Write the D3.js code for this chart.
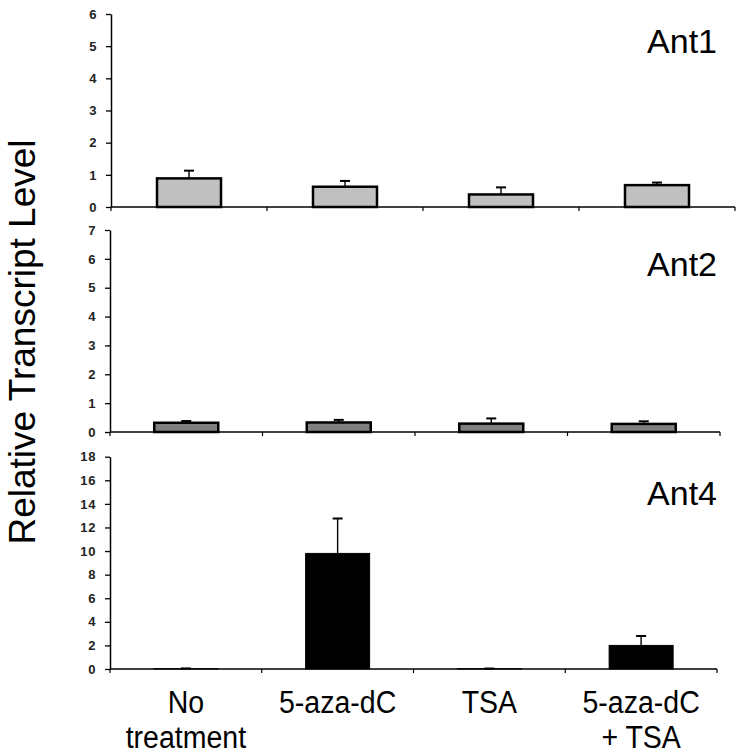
<!DOCTYPE html>
<html>
<head>
<meta charset="utf-8">
<script src="https://cdn.jsdelivr.net/npm/d3@7"></script>
<style>
  html, body { margin: 0; padding: 0; background: #fff; }
  svg { display: block; }
  text { font-family: "Liberation Sans", Arial, sans-serif; }
</style>
</head>
<body>
<svg id="chart" width="744" height="755"></svg>
<script>
// ---- data ----
const categories = ["No treatment", "5-aza-dC", "TSA", "5-aza-dC + TSA"];
const categoryLines = [["No", "treatment"], ["5-aza-dC"], ["TSA"], ["5-aza-dC", "+ TSA"]];
const genes = ["Ant1", "Ant2", "Ant4"];
const ant1 = [0.89, 0.63, 0.39, 0.68];
const ant1Err = [0.24, 0.18, 0.22, 0.08];
const ant2 = [0.32, 0.33, 0.29, 0.28];
const ant2Err = [0.06, 0.09, 0.18, 0.09];
const ant4 = [0.02, 9.8, 0.02, 2.0];
const ant4Err = [0.03, 2.96, 0.02, 0.8];
const ant1Ticks = [0, 1, 2, 3, 4, 5, 6];
const ant2Ticks = [0, 1, 2, 3, 4, 5, 6, 7];
const ant4Ticks = [0, 2, 4, 6, 8, 10, 12, 14, 16, 18];
const yLabel = "Relative Transcript Level";

// ---- layout ----
const panels = [
  { name: genes[0], vals: ant1, errs: ant1Err, ticks: ant1Ticks, fill: "#c0c0c0", stroke: 2.5,
    x0: 111, x1: 735, yBottom: 207, yTop: 14, titleY: 53 },
  { name: genes[1], vals: ant2, errs: ant2Err, ticks: ant2Ticks, fill: "#808080", stroke: 2.5,
    x0: 110, x1: 720, yBottom: 432, yTop: 230, titleY: 276 },
  { name: genes[2], vals: ant4, errs: ant4Err, ticks: ant4Ticks, fill: "#000000", stroke: 1,
    x0: 110, x1: 717, yBottom: 669, yTop: 456.7, titleY: 505 }
];

const svg = d3.select("#chart");

panels.forEach((p, pi) => {
  const x = d3.scaleBand().domain(categories).range([p.x0, p.x1]).paddingInner(0).paddingOuter(0);
  const yMax = p.ticks[p.ticks.length - 1];
  const y = d3.scaleLinear().domain([0, yMax]).range([p.yBottom, p.yTop]);
  const g = svg.append("g");

  // y axis
  const yAxis = g.append("g")
    .attr("transform", `translate(${p.x0},0)`)
    .call(d3.axisLeft(y).tickValues(p.ticks).tickFormat(d3.format("d"))
      .tickSize(5).tickPadding(9).tickSizeOuter(0));
  yAxis.select(".domain").attr("stroke", "#000").attr("stroke-width", 1.5);
  yAxis.selectAll(".tick line").attr("stroke", "#000").attr("stroke-width", 1.3);
  yAxis.selectAll(".tick text")
    .attr("font-size", 13).attr("font-weight", "bold").attr("fill", "#222")
    .attr("font-family", "'Liberation Sans', Arial, sans-serif")
    .attr("letter-spacing", 0.6);

  // x axis line with separator ticks at band boundaries
  const bounds = categories.map(c => x(c)).concat([p.x1]);
  g.append("line")
    .attr("x1", p.x0).attr("x2", p.x1)
    .attr("y1", p.yBottom).attr("y2", p.yBottom)
    .attr("stroke", "#000").attr("stroke-width", 1.5);
  g.selectAll(".sep").data(bounds).enter().append("line")
    .attr("x1", d => d).attr("x2", d => d)
    .attr("y1", p.yBottom).attr("y2", p.yBottom + 4)
    .attr("stroke", "#000").attr("stroke-width", 1.2);

  const barW = 64;
  // bars
  g.selectAll(".bar").data(p.vals).enter().append("rect")
    .attr("x", (d, i) => x(categories[i]) + x.bandwidth() / 2 - barW / 2)
    .attr("width", barW)
    .attr("y", d => y(d))
    .attr("height", d => p.yBottom - y(d))
    .attr("fill", p.fill)
    .attr("stroke", "#000")
    .attr("stroke-width", p.stroke);

  // error bars
  const capW = 10;
  p.vals.forEach((v, i) => {
    const cx = x(categories[i]) + x.bandwidth() / 2;
    const top = y(v + p.errs[i]);
    g.append("line").attr("x1", cx).attr("x2", cx)
      .attr("y1", y(v)).attr("y2", top)
      .attr("stroke", "#000").attr("stroke-width", 1.4);
    g.append("line").attr("x1", cx - capW / 2).attr("x2", cx + capW / 2)
      .attr("y1", top).attr("y2", top)
      .attr("stroke", "#000").attr("stroke-width", 2);
  });

  // panel title
  g.append("text")
    .attr("x", 717).attr("y", p.titleY)
    .attr("text-anchor", "end")
    .attr("font-size", 34)
    .attr("fill", "#000")
    .text(p.name);

  // category labels under the last panel
  if (pi === panels.length - 1) {
    categoryLines.forEach((lines, i) => {
      const cx = x(categories[i]) + x.bandwidth() / 2;
      lines.forEach((ln, li) => {
        g.append("text")
          .attr("transform", `translate(${cx},${713 + li * 35}) scale(0.92,1)`)
          .attr("text-anchor", "middle")
          .attr("font-size", 31)
          .attr("fill", "#000")
          .text(ln);
      });
    });
  }
});

// y label
svg.append("text")
  .attr("transform", "translate(35,342) rotate(-90)")
  .attr("text-anchor", "middle")
  .attr("font-size", 37)
  .attr("fill", "#000")
  .text(yLabel);
</script>
</body>
</html>
